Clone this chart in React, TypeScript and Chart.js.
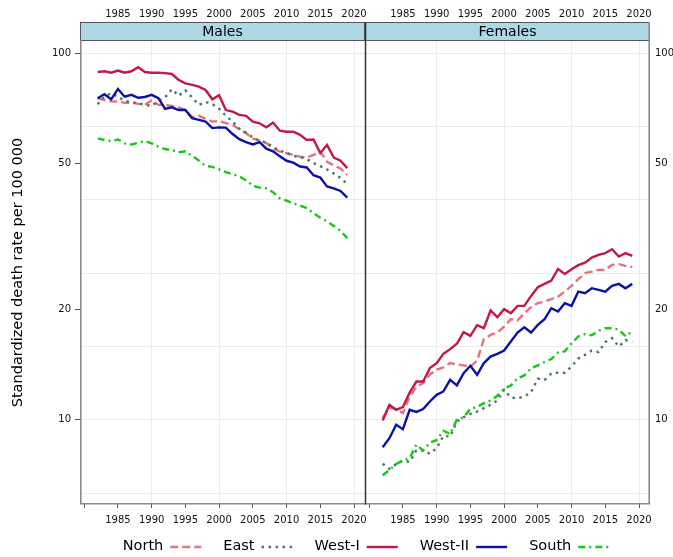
import React, { useEffect, useRef } from 'react';
import { Chart, registerables } from 'chart.js';

Chart.register(...registerables);

const years = [1982, 1983, 1984, 1985, 1986, 1987, 1988, 1989, 1990, 1991, 1992, 1993, 1994, 1995, 1996, 1997, 1998, 1999, 2000, 2001, 2002, 2003, 2004, 2005, 2006, 2007, 2008, 2009, 2010, 2011, 2012, 2013, 2014, 2015, 2016, 2017, 2018, 2019];

const regions = ['North', 'East', 'West-I', 'West-II', 'South'];
const panels = ['Males', 'Females'];

const xTicks = [1980, 1985, 1990, 1995, 2000, 2005, 2010, 2015, 2020];
const xGridYears = [1990, 2000, 2010, 2020];
const yTicks = [10, 20, 50, 100];
const yGridValues = [6.31, 10, 15.85, 25.12, 39.81, 63.1, 100];

const malesNorth = [75.4, 74.5, 74.0, 73.8, 73.3, 73.3, 72.8, 72.3, 74.4, 72.3, 72.3, 71.8, 71.2, 70.0, 66.9, 67.5, 66.2, 65.1, 65.3, 64.5, 63.7, 62.1, 60.5, 58.6, 57.8, 56.9, 55.1, 53.9, 53.4, 52.8, 52.2, 52.0, 52.8, 53.9, 50.6, 49.5, 48.5, 46.6];
const malesEast = [72.6, 76.1, 77.8, 76.1, 74.2, 73.5, 73.1, 72.3, 71.9, 74.1, 75.8, 79.8, 76.5, 79.2, 75.8, 72.3, 73.6, 72.7, 70.6, 67.5, 65.1, 62.3, 60.7, 58.9, 57.7, 57.1, 55.4, 54.2, 53.5, 52.5, 52.1, 51.4, 50.2, 49.2, 48.2, 47.0, 45.7, 44.0];
const malesWestI = [88.9, 89.3, 88.5, 89.7, 88.5, 89.3, 91.6, 88.9, 88.5, 88.5, 88.3, 87.8, 84.6, 82.8, 82.0, 81.1, 79.4, 74.9, 76.8, 70.0, 69.3, 67.9, 67.5, 65.1, 64.4, 62.8, 64.7, 61.5, 61.1, 61.1, 59.9, 58.0, 58.2, 53.4, 56.2, 51.9, 50.9, 48.6];
const malesWestII = [75.4, 77.3, 74.9, 79.9, 76.1, 77.0, 75.6, 76.0, 77.0, 75.4, 70.5, 71.2, 70.0, 70.0, 66.5, 65.8, 65.1, 62.5, 62.8, 62.7, 60.2, 58.3, 57.2, 56.4, 57.2, 54.9, 54.0, 52.4, 50.9, 50.3, 49.1, 48.8, 46.5, 45.8, 43.3, 42.8, 42.1, 40.4];
const malesSouth = [58.6, 58.0, 57.6, 58.2, 56.8, 56.4, 57.0, 57.6, 56.8, 55.6, 54.8, 54.4, 53.7, 54.0, 52.5, 51.0, 49.3, 49.0, 48.2, 47.4, 46.8, 46.2, 45.0, 43.5, 43.0, 42.8, 41.8, 40.2, 39.6, 39.0, 38.4, 37.8, 36.6, 35.6, 34.8, 33.8, 32.8, 31.3];

const femalesNorth = [10.1, 10.8, 10.7, 10.43, 11.57, 12.3, 12.6, 13.3, 13.7, 13.9, 14.28, 14.15, 14.08, 13.96, 14.5, 16.6, 17.05, 17.3, 17.96, 18.82, 18.66, 19.54, 20.29, 20.81, 21.02, 21.34, 21.69, 22.38, 23.2, 24.19, 25.12, 25.37, 25.64, 25.64, 26.47, 26.58, 26.3, 26.09];
const femalesEast = [7.59, 7.35, 7.57, 7.74, 7.68, 8.25, 8.24, 8.08, 8.37, 9.04, 9.0, 9.89, 10.17, 10.38, 10.53, 10.76, 10.99, 11.29, 12.08, 11.5, 11.45, 11.57, 11.9, 12.95, 12.85, 13.37, 13.45, 13.44, 13.98, 14.7, 15.04, 15.45, 15.3, 16.3, 16.71, 15.85, 16.5, 16.3];
const femalesWestI = [9.96, 10.99, 10.65, 10.83, 11.87, 12.72, 12.72, 13.84, 14.28, 15.14, 15.59, 16.12, 17.34, 16.95, 18.12, 17.78, 19.87, 19.05, 20.04, 19.54, 20.46, 20.46, 21.78, 23.0, 23.49, 23.98, 25.8, 25.0, 25.76, 26.42, 26.85, 27.7, 28.18, 28.49, 29.21, 27.88, 28.49, 28.0];
const femalesWestII = [8.42, 8.91, 9.69, 9.43, 10.65, 10.51, 10.7, 11.22, 11.7, 11.95, 12.85, 12.41, 13.41, 14.04, 13.27, 14.28, 14.88, 15.14, 15.45, 16.35, 17.3, 17.89, 17.3, 18.16, 18.82, 20.16, 19.74, 20.81, 20.46, 22.38, 22.16, 22.86, 22.62, 22.38, 23.2, 23.49, 22.86, 23.49];
const femalesSouth = [7.06, 7.29, 7.58, 7.74, 7.86, 8.55, 8.24, 8.66, 8.8, 9.34, 9.15, 10.02, 10.15, 10.73, 10.83, 11.1, 11.28, 11.63, 12.17, 12.4, 12.99, 13.22, 13.84, 14.08, 14.38, 14.65, 15.27, 15.38, 16.18, 16.88, 17.14, 17.0, 17.5, 17.78, 17.78, 17.64, 16.9, 17.45];

const seriesColors = ['#E8707E', '#4B7565', '#C21A46', '#0B12A6', '#14C814'];
const seriesDashes = [[8, 4], [2.5, 4.5], [], [], [7, 4, 2, 4]];

const X_MIN = 1979.38;
const X_MAX = 2021.63;
const Y_MIN = 5.93;
const Y_MAX = 108.7;

const W = 673;
const H = 557;
const AREA_TOP = 40;
const AREA_BOTTOM = 503;
const STRIP_TOP = 22;
const GRID = '#EBEBEB';
const TICK_COLOR = '#555555';
const TEXT = '#111111';
const FONT = '"DejaVu Sans", sans-serif';

function makeDatasets(values: number[][]) {
  return values.map((vals, i) => ({
    label: regions[i],
    data: years.map((yr, j) => ({ x: yr, y: vals[j] })),
    borderColor: seriesColors[i],
    backgroundColor: seriesColors[i],
    borderWidth: 2.4,
    borderDash: seriesDashes[i],
    pointRadius: 0,
    fill: false,
    tension: 0,
    order: regions.length - i,
    xAxisID: 'x',
    yAxisID: 'y',
  }));
}

function decorPlugin(panelIndex: number) {
  return {
    id: 'decor' + panelIndex,
    afterDraw(chart: any) {
      const ctx = chart.ctx;
      const a = chart.chartArea;
      ctx.save();
      // strip
      ctx.fillStyle = '#ADD8E6';
      ctx.fillRect(a.left, STRIP_TOP, a.right - a.left, a.top - STRIP_TOP);
      ctx.strokeStyle = '#555555';
      ctx.lineWidth = 1;
      ctx.strokeRect(a.left + 0.5, STRIP_TOP + 0.5, a.right - a.left - 1, a.top - STRIP_TOP);
      ctx.fillStyle = '#000';
      ctx.font = '14px ' + FONT;
      ctx.textAlign = 'center';
      ctx.textBaseline = 'middle';
      ctx.fillText(panels[panelIndex], (a.left + a.right) / 2, (STRIP_TOP + a.top) / 2 + 1);
      // panel borders
      ctx.strokeStyle = '#8A8A8A';
      ctx.lineWidth = 1.6;
      ctx.beginPath();
      if (panelIndex === 0) {
        ctx.moveTo(a.left + 0.8, a.top);
        ctx.lineTo(a.left + 0.8, a.bottom + 0.8);
        ctx.lineTo(a.right, a.bottom + 0.8);
      } else {
        ctx.moveTo(a.left, a.bottom + 0.8);
        ctx.lineTo(a.right - 0.8, a.bottom + 0.8);
        ctx.lineTo(a.right - 0.8, STRIP_TOP);
      }
      ctx.stroke();
      if (panelIndex === 1) {
        // divider between panels
        ctx.strokeStyle = '#333333';
        ctx.lineWidth = 1.5;
        ctx.beginPath();
        ctx.moveTo(a.left + 0.5, STRIP_TOP);
        ctx.lineTo(a.left + 0.5, a.bottom + 1.5);
        ctx.stroke();

        // y title
        ctx.save();
        ctx.translate(18, (AREA_TOP + AREA_BOTTOM) / 2 + 1);
        ctx.rotate(-Math.PI / 2);
        ctx.fillStyle = '#000';
        ctx.font = '14.5px ' + FONT;
        ctx.textAlign = 'center';
        ctx.textBaseline = 'middle';
        ctx.fillText('Standardized death rate per 100 000', 0, 0);
        ctx.restore();

        // legend
        ctx.font = '14.5px ' + FONT;
        ctx.textAlign = 'left';
        ctx.textBaseline = 'middle';
        const textGap = 7;
        const sampleLen = 31;
        const itemGap = 22;
        const widths = regions.map((r) => ctx.measureText(r).width);
        const total = widths.reduce((s, w) => s + w, 0) + regions.length * (textGap + sampleLen) + (regions.length - 1) * itemGap;
        let x = 366 - total / 2;
        const y = 546;
        regions.forEach((r, i) => {
          ctx.fillStyle = '#000';
          ctx.fillText(r, x, y);
          x += widths[i] + textGap;
          ctx.strokeStyle = seriesColors[i];
          ctx.lineWidth = 2.4;
          ctx.setLineDash(seriesDashes[i]);
          ctx.beginPath();
          ctx.moveTo(x, y + 1);
          ctx.lineTo(x + sampleLen, y + 1);
          ctx.stroke();
          ctx.setLineDash([]);
          x += sampleLen + itemGap;
        });
      }
      ctx.restore();
    },
  };
}

function makeConfig(panelIndex: number, values: number[][]): any {
  const isMale = panelIndex === 0;
  const tickFont = { size: 10, family: FONT };
  return {
    type: 'line',
    data: { datasets: makeDatasets(values) },
    plugins: [decorPlugin(panelIndex)],
    options: {
      animation: false,
      responsive: false,
      maintainAspectRatio: false,
      events: [],
      layout: { padding: isMale ? { left: 0, right: W - 365, top: 0, bottom: 0 } : { left: 365, right: 0, top: 0, bottom: 0 } },
      plugins: { legend: { display: false }, tooltip: { enabled: false } },
      scales: {
        x: {
          type: 'linear',
          position: 'bottom',
          min: X_MIN,
          max: X_MAX,
          bounds: 'data',
          afterBuildTicks: (s: any) => { s.ticks = xTicks.map((v) => ({ value: v })); },
          afterFit: (s: any) => { s.height = H - AREA_BOTTOM; },
          ticks: {
            autoSkip: false,
            maxRotation: 0,
            minRotation: 0,
            padding: 6,
            color: TEXT,
            font: tickFont,
            callback: (v: number) => (v === 1980 ? '' : String(v)),
          },
          grid: {
            display: true,
            drawOnChartArea: true,
            drawTicks: true,
            tickLength: 5,
            tickColor: TICK_COLOR,
            tickWidth: 1,
            lineWidth: 1,
            color: (c: any) => (c.tick && xGridYears.includes(c.tick.value) ? GRID : 'rgba(0,0,0,0)'),
          },
          border: { display: false },
        },
        xt: {
          type: 'linear',
          position: 'top',
          min: X_MIN,
          max: X_MAX,
          bounds: 'data',
          afterBuildTicks: (s: any) => { s.ticks = xTicks.filter((v) => v !== 1980).map((v) => ({ value: v })); },
          afterFit: (s: any) => { s.height = AREA_TOP; },
          ticks: {
            autoSkip: false,
            maxRotation: 0,
            minRotation: 0,
            padding: 20,
            color: TEXT,
            font: tickFont,
            callback: (v: number) => String(v),
          },
          grid: { display: true, drawOnChartArea: false, drawTicks: false },
          border: { display: false },
        },
        y: {
          type: 'logarithmic',
          position: isMale ? 'left' : 'right',
          min: Y_MIN,
          max: Y_MAX,
          bounds: 'data',
          afterBuildTicks: (s: any) => { s.ticks = yTicks.map((v) => ({ value: v })); },
          afterFit: (s: any) => { s.width = isMale ? 80 : W - 650; },
          ticks: {
            autoSkip: false,
            padding: isMale ? 4 : 5,
            color: TEXT,
            font: tickFont,
            callback: (v: number) => String(v),
          },
          grid: {
            display: true,
            drawOnChartArea: false,
            drawTicks: isMale,
            tickLength: 5,
            tickColor: TICK_COLOR,
          },
          border: { display: false },
        },
        yg: {
          type: 'logarithmic',
          position: isMale ? 'left' : 'right',
          min: Y_MIN,
          max: Y_MAX,
          bounds: 'data',
          afterBuildTicks: (s: any) => { s.ticks = yGridValues.map((v) => ({ value: v })); },
          afterFit: (s: any) => { s.width = 0; },
          ticks: { display: false },
          grid: { display: true, drawOnChartArea: true, drawTicks: false, color: GRID, lineWidth: 1 },
          border: { display: false },
        },
      },
    },
  };
}

export default function App() {
  const maleRef = useRef<HTMLCanvasElement>(null);
  const femaleRef = useRef<HTMLCanvasElement>(null);

  useEffect(() => {
    Chart.defaults.font.family = FONT;
    const males = new Chart(maleRef.current as HTMLCanvasElement, makeConfig(0, [malesNorth, malesEast, malesWestI, malesWestII, malesSouth]));
    const females = new Chart(femaleRef.current as HTMLCanvasElement, makeConfig(1, [femalesNorth, femalesEast, femalesWestI, femalesWestII, femalesSouth]));
    return () => {
      males.destroy();
      females.destroy();
    };
  }, []);

  return (
    <div style={{ position: 'absolute', left: 0, top: 0, width: W, height: H, background: '#ffffff' }}>
      <canvas ref={maleRef} width={W} height={H} style={{ position: 'absolute', left: 0, top: 0 }} />
      <canvas ref={femaleRef} width={W} height={H} style={{ position: 'absolute', left: 0, top: 0 }} />
    </div>
  );
}
